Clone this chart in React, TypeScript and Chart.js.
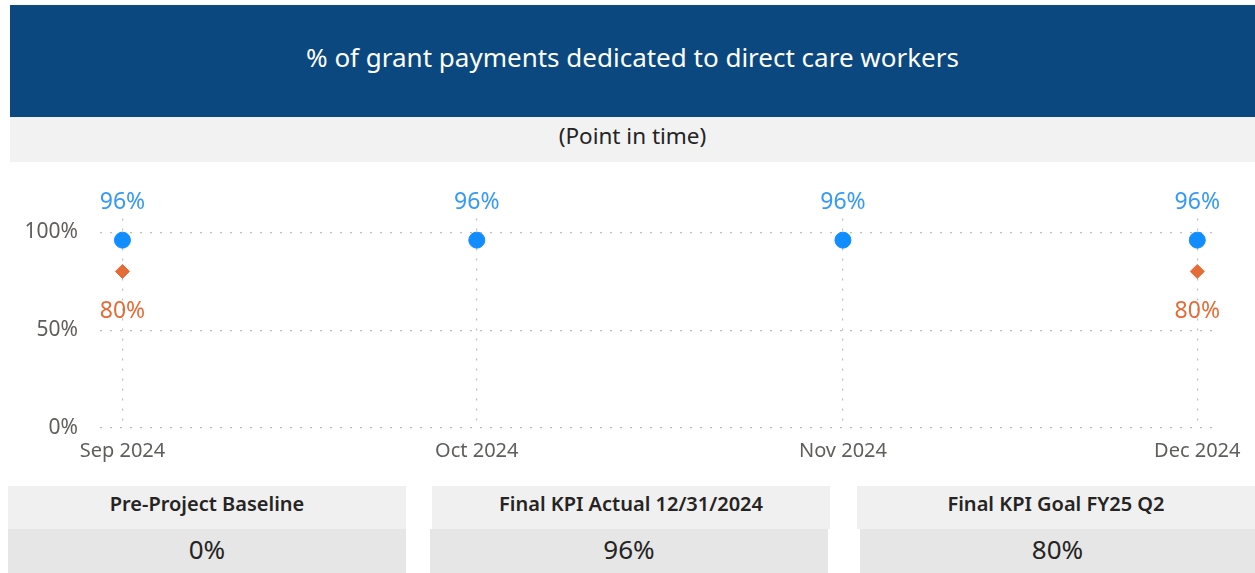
import React, { useEffect, useRef } from "react";
import { Chart, registerables } from "chart.js";

Chart.register(...registerables);

// Days since Sep 1, 2024
const monthDays = [0, 30, 61, 91];
const monthLabels = ["Sep 2024", "Oct 2024", "Nov 2024", "Dec 2024"];
const actualValues = [96, 96, 96, 96];
const goalDays = [0, 91];
const goalValues = [80, 80];
const yTicks = [0, 50, 100];

const cardTitles = ["Pre-Project Baseline", "Final KPI Actual 12/31/2024", "Final KPI Goal FY25 Q2"];
const cardValues = ["0%", "96%", "80%"];

const FONT = "'Noto Sans', 'Open Sans', sans-serif";

const labelPlugin = {
  id: "pointLabels",
  afterDatasetsDraw(chart: any) {
    const ctx = chart.ctx;
    ctx.save();
    ctx.font = `23px ${FONT}`;
    ctx.textAlign = "center";
    ctx.textBaseline = "middle";
    chart.data.datasets.forEach((ds: any, i: number) => {
      const meta = chart.getDatasetMeta(i);
      meta.data.forEach((el: any, j: number) => {
        const v = ds.data[j].y;
        ctx.fillStyle = ds.labelColor;
        const dy = ds.labelPos === "above" ? -38 : 40;
        ctx.fillText(`${v}%`, el.x, el.y + dy);
      });
    });
    ctx.restore();
  },
};

function ChartView() {
  const ref = useRef<HTMLCanvasElement | null>(null);
  useEffect(() => {
    if (!ref.current) return;
    const chart = new Chart(ref.current, {
      type: "scatter",
      data: {
        datasets: [
          {
            label: "Goal",
            data: goalDays.map((d, i) => ({ x: d, y: goalValues[i] })),
            pointStyle: "rectRot",
            pointRadius: 7,
            backgroundColor: "#E66C37",
            borderColor: "#E66C37",
            labelColor: "#E66C37",
            labelPos: "below",
            clip: false,
          } as any,
          {
            label: "Actual",
            data: monthDays.map((d, i) => ({ x: d, y: actualValues[i] })),
            pointStyle: "circle",
            pointRadius: 8,
            backgroundColor: "#118DFF",
            borderColor: "#118DFF",
            labelColor: "#3599F8",
            labelPos: "above",
            clip: false,
          } as any,
        ],
      },
      options: {
        animation: false,
        responsive: false,
        maintainAspectRatio: false,
        layout: { autoPadding: false, padding: { left: 0, right: 40, top: 0, bottom: 0 } },
        plugins: { legend: { display: false }, tooltip: { enabled: false } },
        scales: {
          x: {
            type: "linear",
            min: -1.9,
            max: 92.5,
            afterBuildTicks: (scale: any) => {
              scale.ticks = monthDays.map((v) => ({ value: v }));
            },
            afterFit: (scale: any) => {
              scale.height = 50;
            },
            ticks: {
              padding: 11,
              color: "#605E5C",
              font: { family: FONT, size: 20 },
              maxRotation: 0,
              autoSkip: false,
              callback: (v: any) => {
                const idx = monthDays.indexOf(Number(v));
                return idx >= 0 ? monthLabels[idx] : "";
              },
            },
            grid: {
              color: "#BDBDBD",
              lineWidth: 1.2,
              drawTicks: false,
            },
            border: { display: false, dash: [2, 8] },
          },
          y: {
            min: 0,
            max: 107,
            afterBuildTicks: (scale: any) => {
              scale.ticks = yTicks.map((v) => ({ value: v }));
            },
            afterFit: (scale: any) => {
              scale.width = 100;
            },
            ticks: {
              padding: 22,
              color: "#605E5C",
              font: { family: FONT, size: 21 },
              callback: (v: any) => `${v}%`,
            },
            grid: {
              color: "#BDBDBD",
              lineWidth: 1.2,
              drawTicks: false,
            },
            border: { display: false, dash: [2, 8] },
          },
        },
      } as any,
      plugins: [labelPlugin],
    });
    return () => chart.destroy();
  }, []);
  return (
    <canvas
      ref={ref}
      width={1255}
      height={294}
      style={{ position: "absolute", left: 0, top: 184, width: 1255, height: 294 }}
    />
  );
}

const cardHeaderLefts = [8, 432, 857];
const cardHeaderWidths = [398, 398, 398];
const cardValueLefts = [8, 430, 860];
const cardValueWidths = [398, 398, 395];

export default function App() {
  useEffect(() => {
    document.body.style.margin = "0";
  }, []);
  return (
    <div
      style={{
        position: "absolute",
        left: 0,
        top: 0,
        width: 1255,
        height: 573,
        overflow: "hidden",
        background: "#fff",
        fontFamily: FONT,
      }}
    >
      <div
        style={{
          position: "absolute",
          left: 10,
          top: 5,
          width: 1245,
          height: 112,
          background: "#0B4880",
          color: "#fff",
          display: "flex",
          alignItems: "center",
          justifyContent: "center",
          fontSize: 26,
          paddingBottom: 8,
          boxSizing: "border-box",
        }}
      >
        % of grant payments dedicated to direct care workers
      </div>
      <div
        style={{
          position: "absolute",
          left: 10,
          top: 117,
          width: 1245,
          height: 45,
          background: "#F2F2F2",
          color: "#252423",
          display: "flex",
          alignItems: "center",
          justifyContent: "center",
          fontSize: 22.5,
          paddingBottom: 8,
          boxSizing: "border-box",
        }}
      >
        (Point in time)
      </div>
      <ChartView />
      {cardTitles.map((t, i) => (
        <React.Fragment key={t}>
          <div
            style={{
              position: "absolute",
              left: cardHeaderLefts[i],
              top: 486,
              width: cardHeaderWidths[i],
              height: 43,
              background: "#F0F0F0",
              color: "#252423",
              fontWeight: 600,
              fontSize: 20,
              display: "flex",
              alignItems: "center",
              justifyContent: "center",
              paddingBottom: 8,
              boxSizing: "border-box",
            }}
          >
            {t}
          </div>
          <div
            style={{
              position: "absolute",
              left: cardValueLefts[i],
              top: 529,
              width: cardValueWidths[i],
              height: 44,
              background: "#E6E6E6",
              color: "#252423",
              fontSize: 26,
              display: "flex",
              alignItems: "center",
              justifyContent: "center",
              paddingBottom: 4,
              boxSizing: "border-box",
            }}
          >
            {cardValues[i]}
          </div>
        </React.Fragment>
      ))}
    </div>
  );
}
